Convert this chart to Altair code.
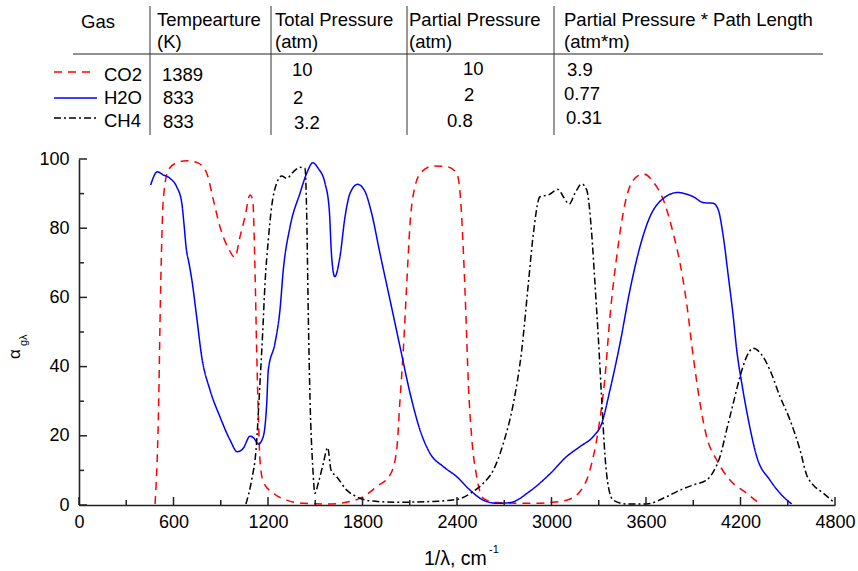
import altair as alt
import pandas as pd

# ---------------- data ----------------
gases = ["CO2", "H2O", "CH4"]
temperature = ["1389", "833", "833"]
total_pressure = ["10", "2", "3.2"]
partial_pressure = ["10", "2", "0.8"]
pressure_path = ["3.9", "0.77", "0.31"]
headers_line1 = ["Gas", "Tempearture", "Total Pressure", "Partial Pressure", "Partial Pressure * Path Length"]
headers_line2 = ["", "(K)", "(atm)", "(atm)", "(atm*m)"]

co2_x = [483, 504, 519, 535, 567, 620, 684, 757, 811, 853, 895, 948, 990, 1022, 1054, 1086, 1103, 1117,
         1128, 1139, 1149, 1170, 1234, 1319, 1424, 1594, 1721, 1805, 1890, 1975, 2017, 2038, 2059, 2081,
         2102, 2133, 2176, 2250, 2334, 2398, 2423, 2440, 2457, 2472, 2493, 2525, 2567, 2652, 2863, 2990,
         3096, 3181, 3244, 3297, 3340, 3371, 3414, 3467, 3519, 3583, 3646, 3710, 3773, 3816, 3858, 3900,
         3943, 3985, 4049, 4133, 4239, 4320]
co2_y = [0.3, 25.5, 64, 88.2, 96.8, 98.9, 99.5, 98.8, 95.9, 88.2, 80.4, 74.2, 71.6, 77.5, 83.3, 89.6, 88.2,
         68.9, 44.8, 25.5, 13, 6.7, 3.4, 1.4, 0.5, 0.3, 1, 2.4, 5.3, 8.7, 15.9, 30.3, 44.8, 64, 81.4, 92,
         96.3, 98, 97.8, 95.9, 88.2, 73.7, 54.4, 35.2, 19.7, 8.2, 1.9, 0.7, 0.5, 0.7, 1.4, 3.9, 10.1, 21.7,
         37.1, 54.4, 71.8, 87.2, 93.9, 95.7, 93.4, 88.2, 78.5, 69.9, 58.3, 42.9, 29.4, 19.7, 13, 7.2, 3.4, 0.4]

h2o_x = [455, 497, 535, 578, 620, 652, 667, 680, 700, 715, 747, 779, 832, 895, 959, 1005, 1043, 1086, 1111,
         1139, 1170, 1192, 1202, 1244, 1276, 1297, 1340, 1403, 1446, 1484, 1519, 1562, 1589, 1604, 1624,
         1657, 1689, 1721, 1769, 1816, 1858, 1911, 1975, 2038, 2102, 2165, 2229, 2313, 2398, 2483, 2567,
         2652, 2737, 2863, 2990, 3096, 3181, 3265, 3319, 3371, 3435, 3498, 3562, 3625, 3710, 3800, 3900,
         3964, 4027, 4059, 4091, 4123, 4154, 4176, 4208, 4250, 4303, 4387, 4461, 4525]
h2o_y = [92.5, 96.3, 95.4, 94.4, 92, 87.5, 81, 74.5, 69.5, 65.5, 54.4, 42.9, 33.2, 25.5, 18.8, 15.4, 16.4,
         19.9, 19.3, 17.6, 19.8, 29.4, 39, 46.7, 56.4, 67.9, 80.4, 90.1, 95.9, 98.9, 97.3, 93, 85.3, 71.8,
         66, 71.8, 83.3, 90.1, 92.7, 90.6, 84.3, 72.7, 59.2, 45.8, 32.3, 21.7, 14.9, 11.1, 8.2, 4.3, 1.4,
         0.5, 0.7, 4.0, 9.0, 14, 16.9, 19.8, 23.6, 33.2, 46.7, 62.1, 74.7, 83.3, 88.6, 90.3, 89.1, 87.4,
         87.2, 85.3, 77.5, 66, 54.4, 44.8, 35.2, 24.6, 14, 7.2, 2.9, 0.3]

ch4_x = [1060, 1096, 1124, 1149, 1166, 1181, 1202, 1223, 1255, 1287, 1319, 1361, 1403, 1435, 1446, 1456,
         1467, 1484, 1498, 1519, 1551, 1579, 1600, 1636, 1700, 1763, 1848, 2017, 2229, 2398, 2503, 2567,
         2631, 2694, 2758, 2811, 2853, 2885, 2927, 2980, 3043, 3075, 3113, 3149, 3192, 3224, 3255, 3276,
         3297, 3319, 3340, 3361, 3392, 3477, 3604, 3731, 3816, 3900, 3985, 4027, 4070, 4112, 4154, 4197,
         4239, 4281, 4335, 4387, 4451, 4514, 4578, 4620, 4662, 4726, 4800]
ch4_y = [0.3, 7.2, 15.9, 35.2, 49.6, 64, 76.6, 86.2, 93, 95.1, 94.4, 96.3, 97.6, 97.3, 83.3, 54.4, 30.3,
         11.1, 3.4, 6.3, 12, 16.6, 10.1, 8.2, 4.3, 2.4, 1.2, 0.8, 1, 1.6, 3.9, 6.3, 10.1, 17.8, 29.4, 44.8,
         64, 78.5, 89.1, 89.6, 91.2, 89.1, 87, 90.1, 92.8, 91, 78.5, 64, 48.6, 30.3, 14, 5.3, 1.4, 0.3, 0.3,
         2.4, 4.3, 5.8, 7.2, 9.6, 14, 21.7, 29.4, 37.1, 42.9, 45.3, 43.4, 39, 31.3, 24.6, 15.9, 8.7, 5.8,
         3.4, 0.5]

x_major = [0, 600, 1200, 1800, 2400, 3000, 3600, 4200, 4800]
x_minor = [300, 900, 1500, 2100, 2700, 3300, 3900, 4500]
y_major = [0, 20, 40, 60, 80, 100]
y_minor = [10, 30, 50, 70, 90]

# ---------------- styling / layout ----------------
FONT = "Liberation Sans"
W, H = 756, 346
OX, OY = 79, 159          # plot origin inside the 858x571 page
colors = ["#ff0000", "#0000ff", "#000000"]
dashes = [[8, 6], [1, 0], [7, 3, 2, 3]]

frames = []
for g, xs, ys in [("CO2", co2_x, co2_y), ("H2O", h2o_x, h2o_y), ("CH4", ch4_x, ch4_y)]:
    frames.append(pd.DataFrame({"x": xs, "y": ys, "gas": g}))
df = pd.concat(frames, ignore_index=True)

xscale = alt.Scale(domain=[0, 4800], nice=False, zero=False)
yscale = alt.Scale(domain=[0, 100], nice=False)
xaxis = alt.Axis(values=x_major, ticks=False, grid=False, title=None, labelFont=FONT, labelFontSize=18,
                 labelColor="black", labelPadding=8, domainColor="#222222", domainWidth=1.6,
                 labelFlush=False, labelOverlap=False, format="d")
yaxis = alt.Axis(values=y_major, ticks=False, grid=False, title=None, labelFont=FONT, labelFontSize=18,
                 labelColor="black", labelPadding=10, domainColor="#222222", domainWidth=1.6,
                 labelFlush=False, labelOverlap=False, format="d")

lines = alt.Chart(df).mark_line(strokeWidth=1.5, interpolate="monotone").encode(
    x=alt.X("x:Q", scale=xscale, axis=xaxis),
    y=alt.Y("y:Q", scale=yscale, axis=yaxis),
    color=alt.Color("gas:N", scale=alt.Scale(domain=gases, range=colors), legend=None),
    strokeDash=alt.StrokeDash("gas:N", scale=alt.Scale(domain=gases, range=dashes), legend=None),
    detail="gas:N",
)


def xticks(vals, length):
    return alt.Chart(pd.DataFrame({"x": vals})).mark_rule(color="#222222", strokeWidth=1.5).encode(
        x=alt.X("x:Q", scale=xscale, axis=xaxis), y=alt.value(H), y2=alt.value(H - length))


def yticks(vals, length):
    return alt.Chart(pd.DataFrame({"y": vals})).mark_rule(color="#222222", strokeWidth=1.5).encode(
        y=alt.Y("y:Q", scale=yscale, axis=yaxis), x=alt.value(0), x2=alt.value(length))


def label(txt, px, py, size=18.5, align="left", angle=0):
    return alt.Chart(alt.Data(values=[{"t": txt}])).mark_text(
        align=align, baseline="alphabetic", font=FONT, fontSize=size, color="black", angle=angle
    ).encode(x=alt.value(px - OX), y=alt.value(py - OY), text=alt.Text("t:N"))


def hline(x1, x2, y, color="#222222", width=1.0, dash=None):
    kw = dict(color=color, strokeWidth=width)
    if dash is not None:
        kw["strokeDash"] = dash
    return alt.Chart(alt.Data(values=[{}])).mark_rule(**kw).encode(
        x=alt.value(x1 - OX), x2=alt.value(x2 - OX), y=alt.value(y - OY))


def vline(x, y1, y2, color="#333333", width=1.0):
    return alt.Chart(alt.Data(values=[{}])).mark_rule(color=color, strokeWidth=width).encode(
        x=alt.value(x - OX), y=alt.value(y1 - OY), y2=alt.value(y2 - OY))


layers = [lines, xticks(x_major, 8), xticks(x_minor, 5), yticks(y_major, 8), yticks(y_minor, 5)]

# table header
head_x = [81, 157, 275, 409, 564]
head_y1 = [28, 26, 26, 26, 26]
for i, t in enumerate(headers_line1):
    layers.append(label(t, head_x[i], head_y1[i]))
for i, t in enumerate(headers_line2):
    if t:
        layers.append(label(t, head_x[i], 48))

# table rules
layers.append(hline(73, 823, 54))
for vx in [150, 271, 407, 554]:
    layers.append(vline(vx, 6, 135))

# table rows
gas_right = [142, 142, 141]
gas_base = [81, 104, 127]
temp_pos = [(162, 81), (163, 104), (163, 128)]
tp_pos = [(292, 76), (293, 104), (294, 129)]
pp_pos = [(463, 75), (464, 101), (447, 127)]
ppl_pos = [(567, 76), (564, 100), (566, 124)]
for i in range(3):
    layers.append(label(gases[i], gas_right[i], gas_base[i], align="right"))
    layers.append(label(temperature[i], *temp_pos[i]))
    layers.append(label(total_pressure[i], *tp_pos[i]))
    layers.append(label(partial_pressure[i], *pp_pos[i]))
    layers.append(label(pressure_path[i], *ppl_pos[i]))

# legend samples
leg = [(54, 91, 72), (54, 97, 98), (54, 97, 118)]
for i in range(3):
    x1, x2, yy = leg[i]
    layers.append(hline(x1, x2, yy, color=colors[i], width=1.5, dash=dashes[i]))

# axis titles
layers.append(label("1/λ, cm", 424, 565, size=19.5))
layers.append(label("-1", 489, 553, size=11))
layers.append(label("α", 20, 359, size=17, angle=270))
layers.append(label("gλ", 27, 346, size=11, angle=270))

chart = alt.layer(*layers).properties(
    width=W, height=H,
    autosize=alt.AutoSizeParams(type="none"),
    padding={"left": OX, "top": OY, "right": 858 - OX - W, "bottom": 571 - OY - H},
    background="white",
).configure_view(strokeWidth=0)

chart.save("out.html", embed_options={"renderer": "svg", "actions": False})
